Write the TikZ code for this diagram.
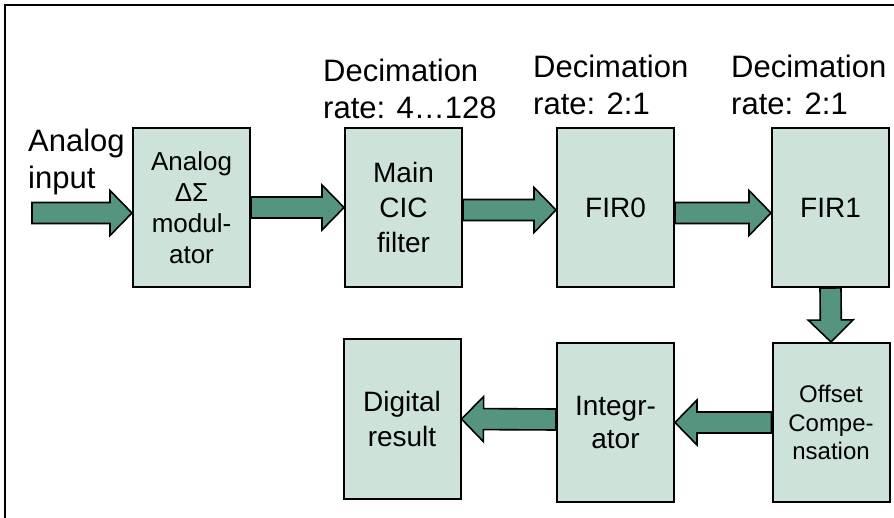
\documentclass[tikz,border=0pt]{standalone}
\usepackage{fontspec}
\setmainfont{Liberation Sans}
\usetikzlibrary{calc}
\definecolor{boxfill}{RGB}{205,227,218}
\definecolor{arrowfill}{RGB}{85,149,127}
\newcommand\blockarrow[2]{%
  \coordinate (ba-a) at (#1);
  \coordinate (ba-b) at (#2);
  \coordinate (ba-h) at ($(ba-b)!22pt!(ba-a)$);
  \draw[flowarrow]
    ($(ba-a)!10.5pt!90:(ba-b)$) -- ($(ba-h)!10.5pt!90:(ba-b)$) --
    ($(ba-h)!22.5pt!90:(ba-b)$) -- (ba-b) --
    ($(ba-h)!22.5pt!-90:(ba-b)$) -- ($(ba-h)!10.5pt!-90:(ba-b)$) --
    ($(ba-a)!10.5pt!-90:(ba-b)$) -- cycle;
}
\begin{document}
\begin{tikzpicture}[x=1pt,y=-1pt,
  stage/.style={draw=black, line width=2pt, fill=boxfill, minimum width=117pt,
    minimum height=159pt, inner sep=0pt, align=center,
    font=\fontsize{28}{35}\selectfont},
  toplabel/.style={anchor=base west, inner sep=0pt, align=left,
    font=\fontsize{31}{37.5}\selectfont},
  flowarrow/.style={draw=black, line width=1.6pt, fill=arrowfill, line join=miter}]
\useasboundingbox (0,0) rectangle (894,518);
\draw[line width=1.5pt] (5,5) rectangle (910,540);

% top row
\node[stage, font=\fontsize{26}{31}\selectfont] (ana) at (191.5,207.5) {Analog\\ΔΣ\\modul-\\ator};
\node[stage] (cic) at (403.5,207.5) {Main\\CIC\\filter};
\node[stage] (fir0) at (615.5,207.5) {FIR0};
\node[stage] (fir1) at (830.5,207.5) {FIR1};

% bottom row
\node[stage, font=\fontsize{24}{28.5}\selectfont] (off) at (831,422.5) {Offset\\Compe-\\nsation};
\node[stage, font=\fontsize{28}{33}\selectfont] (int) at (615.5,422.5) {Integr-\\ator};
\node[stage] (dig) at (402,419) {Digital\\result};

% labels
\node[toplabel] (inlab) at (28,189) {Analog\\input};
\node[toplabel] (lab1) at (323,119) {Decimation\\rate: 4…128};
\node[toplabel] (lab2) at (533,115) {Decimation\\rate: 2:1};
\node[toplabel] (lab3) at (731,115) {Decimation\\rate: 2:1};

% arrows
\coordinate (src) at (32,213);
\blockarrow{src}{ana.west |- src}
\blockarrow{ana.east}{cic.west}
\blockarrow{$(cic.east)+(0,2.5)$}{$(fir0.west)+(0,2.5)$}
\blockarrow{$(fir0.east)+(0,5.5)$}{$(fir1.west)+(0,5.5)$}
\blockarrow{fir1.south}{off.north}
\blockarrow{off.west}{int.east}
\blockarrow{$(int.west)+(0,-3)$}{dig.east}
\end{tikzpicture}
\end{document}
